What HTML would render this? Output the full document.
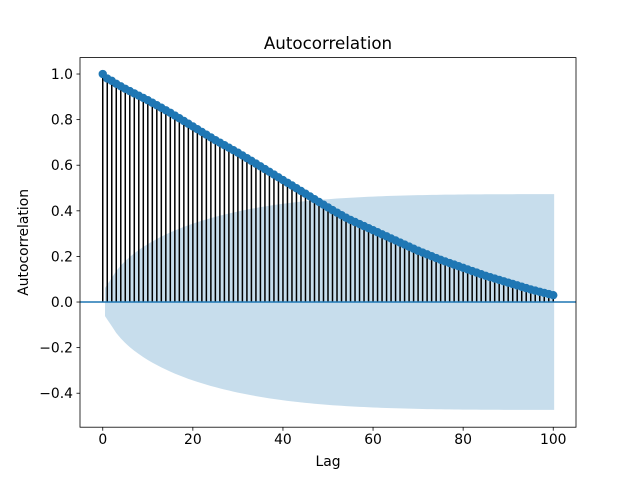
<!DOCTYPE html>
<html><head><meta charset="utf-8"><style>body{margin:0;background:#fff}svg{display:block;font-family:"DejaVu Sans","Liberation Sans",sans-serif}</style></head>
<body>
<svg id="c" width="640" height="480"></svg>
<script>
const lags = Array.from({length:101},(_,i)=>i);
const acfValues = [1.0,0.98,0.97,0.957,0.946,0.935,0.925,0.915,0.905,0.895,0.885,
0.874,0.863,0.852,0.841,0.830,0.818,0.806,0.794,0.782,0.770,
0.758,0.746,0.734,0.722,0.710,0.699,0.688,0.677,0.666,0.655,
0.643,0.631,0.619,0.607,0.595,0.583,0.571,0.559,0.547,0.535,
0.523,0.511,0.499,0.487,0.475,0.463,0.451,0.439,0.427,0.415,
0.403,0.392,0.381,0.370,0.360,0.351,0.342,0.333,0.324,0.315,
0.306,0.297,0.288,0.279,0.270,0.261,0.252,0.243,0.234,0.225,
0.217,0.209,0.201,0.193,0.185,0.178,0.171,0.164,0.157,0.150,
0.143,0.136,0.129,0.122,0.115,0.109,0.103,0.097,0.091,0.085,
0.079,0.073,0.067,0.061,0.055,0.050,0.045,0.040,0.035,0.030];
const nObs = 1000;
const xTicks = [0,20,40,60,80,100];
const yTicks = [-0.4,-0.2,0.0,0.2,0.4,0.6,0.8,1.0];

const L=80,R=576,T=57.6,B=427.2;
const xMin=-5.05,xMax=105.05,yMin=-0.549,yMax=1.072;
const X=v=>L+(v-xMin)/(xMax-xMin)*(R-L);
const Y=v=>B-(v-yMin)/(yMax-yMin)*(B-T);
const svg=document.getElementById('c');
const NS='http://www.w3.org/2000/svg';
function mk(t,a,parent){const e=document.createElementNS(NS,t);for(const k in a)e.setAttribute(k,a[k]);(parent||svg).appendChild(e);return e;}

const band=[];let s=0;
for(let k=1;k<acfValues.length;k++){band.push(1.96*Math.sqrt((1+2*s)/nObs));s+=acfValues[k]*acfValues[k];}
let up=[],lo=[];
for(let k=1;k<acfValues.length;k++){
  let xk=lags[k]; if(k===1)xk-=0.5; if(k===acfValues.length-1)xk+=0.2;
  up.push(X(xk)+','+Y(band[k-1])); lo.unshift(X(xk)+','+Y(-band[k-1]));
}
const bandEl=mk('polygon',{points:up.concat(lo).join(' '),fill:'#1f77b4','fill-opacity':0.25});



const stems=mk('g',{});


acfValues.forEach((v,i)=>{
  const l=mk('line',{x1:X(lags[i]),x2:X(lags[i]),y1:Y(0),y2:Y(v),stroke:'#000','stroke-width':1.5},stems);
  
  
});
const z=mk('line',{x1:L,x2:R,y1:Y(0),y2:Y(0),stroke:'#1f77b4','stroke-width':1.5});


const pts=mk('g',{});


acfValues.forEach((v,i)=>{
  const c=mk('circle',{cx:X(lags[i]),cy:Y(v),r:4.2,fill:'#1f77b4'},pts);
  
  
});
const fr=mk('rect',{x:L,y:T,width:R-L,height:B-T,fill:'none',stroke:'#000','stroke-width':0.8});


xTicks.forEach(t=>{
  mk('line',{x1:X(t),x2:X(t),y1:B,y2:B+3.5,stroke:'#000','stroke-width':0.8});
  const tx=mk('text',{x:X(t),y:B+17,'text-anchor':'middle','font-size':13.9,fill:'#000'});
  tx.textContent=t;
  
  
});
yTicks.forEach(t=>{
  mk('line',{x1:L-3.5,x2:L,y1:Y(t),y2:Y(t),stroke:'#000','stroke-width':0.8});
  const tx=mk('text',{x:L-7,y:Y(t)+5,'text-anchor':'end','font-size':13.9,fill:'#000'});
  tx.textContent=(t<0?'\u2212':'')+Math.abs(t).toFixed(1);
  
  
});
const ti=mk('text',{x:(L+R)/2,y:49,'text-anchor':'middle','font-size':16.7});
ti.textContent='Autocorrelation';


const xl=mk('text',{x:(L+R)/2,y:466,'text-anchor':'middle','font-size':13.9});
xl.textContent='Lag';


const yl=mk('text',{x:0,y:0,'text-anchor':'middle','font-size':13.9,transform:'translate(28,'+((T+B)/2)+') rotate(-90)'});
yl.textContent='Autocorrelation';


</script>
</body></html>
